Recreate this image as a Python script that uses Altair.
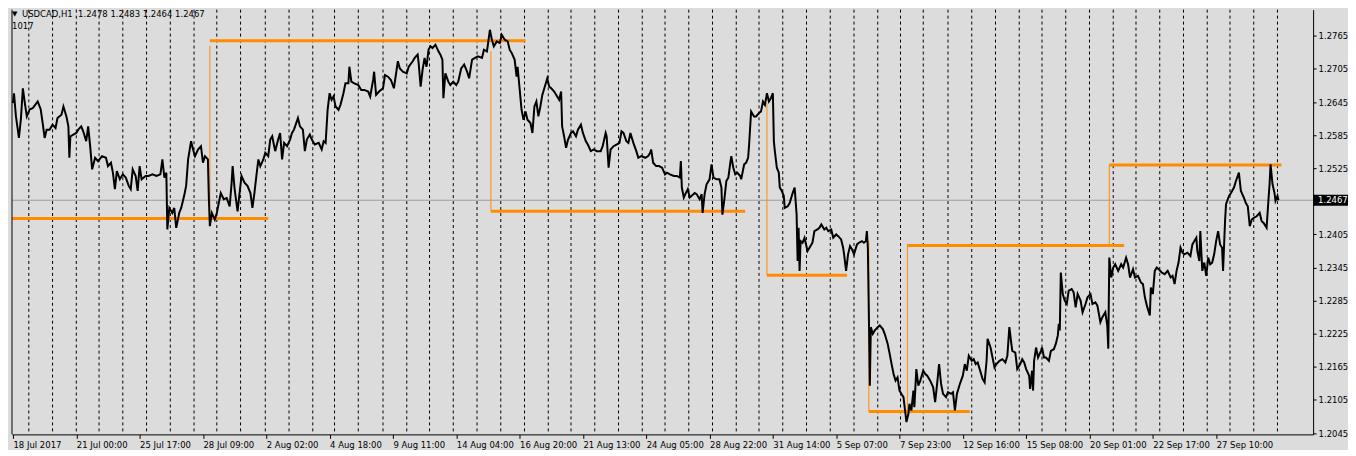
import altair as alt
import pandas as pd

# ---------------- data ----------------
bars = [0, 1, 3, 6, 8, 10, 12, 14, 17, 20, 25, 28, 30, 32, 34, 37, 40, 43, 45, 49,
        51, 54, 56, 57, 58, 61, 64, 66, 69, 71, 74, 76, 78, 80, 83, 86, 90, 94, 96, 99,
        101, 103, 105, 108, 111, 114, 117, 119, 121, 124, 126, 128, 130, 134, 137, 141, 145, 149, 151, 153,
        155, 156, 158, 161, 163, 165, 168, 170, 173, 175, 177, 180, 182, 184, 187, 190, 192, 194, 197, 198,
        199, 201, 204, 206, 208, 210, 213, 216, 219, 221, 222, 224, 227, 229, 231, 234, 237, 240, 242, 244,
        246, 248, 250, 253, 255, 258, 260, 262, 264, 265, 268, 270, 272, 274, 277, 280, 282, 284, 288, 290,
        293, 295, 297, 300, 302, 305, 309, 312, 314, 316, 318, 320, 322, 324, 326, 329, 331, 334, 336, 339,
        340, 342, 345, 349, 352, 355, 359, 361, 364, 365, 367, 370, 374, 376, 379, 382, 385, 389, 391, 394,
        398, 400, 404, 406, 409, 410, 412, 414, 416, 418, 420, 422, 424, 427, 430, 432, 434, 435, 437, 440,
        442, 445, 448, 450, 453, 456, 459, 461, 464, 467, 470, 474, 476, 479, 480, 482, 484, 486, 489, 492,
        494, 497, 500, 502, 504, 507, 509, 510, 512, 514, 516, 518, 520, 523, 525, 527, 529, 531, 533, 535,
        538, 540, 542, 544, 547, 550, 552, 554, 555, 557, 559, 561, 564, 566, 569, 571, 574, 576, 579, 581,
        584, 587, 590, 594, 596, 599, 600, 602, 604, 607, 610, 613, 615, 617, 620, 622, 624, 627, 630, 632,
        635, 639, 642, 644, 645, 647, 650, 653, 656, 659, 661, 664, 668, 671, 674, 675, 676, 678, 680, 682,
        684, 686, 689, 691, 694, 696, 697, 699, 701, 704, 706, 708, 711, 714, 716, 717, 719, 721, 723, 725,
        726, 728, 730, 732, 735, 736, 739, 741, 743, 744, 746, 749, 751, 754, 756, 758, 760, 762, 764, 766,
        768, 769, 770, 772, 774, 775, 777, 779, 780, 783, 785, 788, 790, 791, 792, 793, 794, 795, 796, 798,
        800, 803, 805, 808, 810, 813, 815, 817, 820, 822, 824, 827, 829, 832, 834, 837, 839, 840, 842, 844,
        846, 848, 850, 853, 855, 858, 860, 862, 863, 864, 865, 866, 867, 869, 871, 874, 876, 879, 881, 884,
        886, 888, 890, 892, 894, 896, 898, 900, 902, 903, 905, 906, 908, 910, 911, 913, 915, 917, 920, 922,
        924, 927, 930, 932, 934, 936, 938, 940, 943, 945, 948, 950, 952, 954, 956, 957, 960, 962, 964, 966,
        969, 971, 973, 975, 978, 980, 982, 984, 985, 988, 990, 992, 994, 997, 1000, 1003, 1005, 1007, 1009, 1010,
        1013, 1015, 1018, 1020, 1022, 1024, 1027, 1028, 1030, 1031, 1032, 1034, 1036, 1039, 1040, 1042, 1044, 1047, 1049, 1052,
        1054, 1056, 1057, 1058, 1059, 1061, 1063, 1065, 1067, 1070, 1072, 1074, 1076, 1079, 1081, 1084, 1086, 1089, 1091, 1094,
        1096, 1099, 1101, 1104, 1106, 1107, 1108, 1110, 1112, 1114, 1117, 1120, 1122, 1125, 1127, 1129, 1132, 1134, 1137, 1140,
        1142, 1144, 1146, 1149, 1150, 1152, 1154, 1156, 1158, 1161, 1164, 1167, 1170, 1172, 1174, 1176, 1178, 1180, 1182, 1184,
        1187, 1190, 1192, 1194, 1196, 1197, 1199, 1200, 1202, 1204, 1206, 1208, 1210, 1212, 1214, 1216, 1218, 1220, 1222, 1223,
        1225, 1226, 1229, 1231, 1234, 1236, 1239, 1241, 1244, 1246, 1248, 1250, 1252, 1254, 1257, 1260, 1262, 1264, 1267, 1269,
        1270, 1271, 1273, 1275, 1276, 1278, 1279]

prices = [1.2643, 1.2661, 1.2619, 1.2580, 1.2614, 1.2670, 1.2643, 1.2619, 1.2632, 1.2634, 1.2646, 1.2632, 1.2607, 1.2580, 1.2595, 1.2595, 1.2604, 1.2598, 1.2616, 1.2622,
          1.2637, 1.2619, 1.2601, 1.2544, 1.2583, 1.2586, 1.2589, 1.2595, 1.2601, 1.2592, 1.2574, 1.2601, 1.2565, 1.2523, 1.2544, 1.2538, 1.2547, 1.2544, 1.2529, 1.2535,
          1.2517, 1.2487, 1.2520, 1.2505, 1.2514, 1.2508, 1.2493, 1.2487, 1.2523, 1.2511, 1.2484, 1.2529, 1.2505, 1.2511, 1.2511, 1.2514, 1.2511, 1.2514, 1.2541, 1.2508,
          1.2517, 1.2414, 1.2453, 1.2444, 1.2453, 1.2417, 1.2444, 1.2453, 1.2475, 1.2493, 1.2541, 1.2574, 1.2559, 1.2547, 1.2559, 1.2565, 1.2535, 1.2547, 1.2541, 1.2469,
          1.2420, 1.2444, 1.2432, 1.2444, 1.2462, 1.2480, 1.2469, 1.2471, 1.2456, 1.2499, 1.2529, 1.2487, 1.2447, 1.2480, 1.2511, 1.2499, 1.2493, 1.2480, 1.2453, 1.2480,
          1.2511, 1.2541, 1.2529, 1.2541, 1.2553, 1.2547, 1.2577, 1.2583, 1.2565, 1.2556, 1.2577, 1.2589, 1.2541, 1.2571, 1.2565, 1.2577, 1.2589, 1.2595, 1.2616, 1.2601,
          1.2595, 1.2556, 1.2577, 1.2586, 1.2577, 1.2568, 1.2571, 1.2559, 1.2574, 1.2571, 1.2631, 1.2661, 1.2649, 1.2655, 1.2637, 1.2631, 1.2640, 1.2661, 1.2679, 1.2679,
          1.2709, 1.2682, 1.2679, 1.2676, 1.2667, 1.2667, 1.2664, 1.2655, 1.2685, 1.2700, 1.2658, 1.2664, 1.2670, 1.2694, 1.2691, 1.2685, 1.2670, 1.2719, 1.2706, 1.2700,
          1.2697, 1.2709, 1.2719, 1.2725, 1.2731, 1.2716, 1.2673, 1.2704, 1.2725, 1.2709, 1.2740, 1.2746, 1.2743, 1.2749, 1.2737, 1.2731, 1.2722, 1.2652, 1.2697, 1.2682,
          1.2676, 1.2682, 1.2676, 1.2682, 1.2706, 1.2713, 1.2700, 1.2688, 1.2722, 1.2725, 1.2728, 1.2725, 1.2740, 1.2737, 1.2749, 1.2776, 1.2758, 1.2746, 1.2755, 1.2752,
          1.2767, 1.2758, 1.2755, 1.2740, 1.2734, 1.2722, 1.2691, 1.2709, 1.2670, 1.2631, 1.2613, 1.2628, 1.2613, 1.2607, 1.2589, 1.2637, 1.2646, 1.2619, 1.2637, 1.2658,
          1.2676, 1.2688, 1.2673, 1.2670, 1.2664, 1.2655, 1.2649, 1.2664, 1.2601, 1.2583, 1.2562, 1.2577, 1.2589, 1.2592, 1.2583, 1.2595, 1.2604, 1.2589, 1.2574, 1.2568,
          1.2556, 1.2559, 1.2556, 1.2556, 1.2565, 1.2589, 1.2583, 1.2526, 1.2559, 1.2565, 1.2568, 1.2571, 1.2592, 1.2589, 1.2574, 1.2571, 1.2589, 1.2571, 1.2556, 1.2544,
          1.2547, 1.2544, 1.2547, 1.2553, 1.2559, 1.2535, 1.2529, 1.2529, 1.2526, 1.2514, 1.2517, 1.2514, 1.2511, 1.2511, 1.2508, 1.2538, 1.2490, 1.2472, 1.2480, 1.2487,
          1.2472, 1.2475, 1.2480, 1.2478, 1.2469, 1.2478, 1.2444, 1.2478, 1.2496, 1.2505, 1.2532, 1.2508, 1.2505, 1.2505, 1.2490, 1.2441, 1.2469, 1.2502, 1.2508, 1.2535,
          1.2547, 1.2526, 1.2514, 1.2517, 1.2511, 1.2505, 1.2532, 1.2535, 1.2544, 1.2568, 1.2628, 1.2619, 1.2619, 1.2625, 1.2628, 1.2646, 1.2640, 1.2661, 1.2646, 1.2652,
          1.2661, 1.2574, 1.2556, 1.2526, 1.2517, 1.2490, 1.2484, 1.2475, 1.2453, 1.2456, 1.2462, 1.2480, 1.2490, 1.2466, 1.2441, 1.2357, 1.2417, 1.2339, 1.2393, 1.2390,
          1.2399, 1.2375, 1.2381, 1.2390, 1.2411, 1.2414, 1.2417, 1.2423, 1.2414, 1.2417, 1.2411, 1.2414, 1.2399, 1.2405, 1.2402, 1.2396, 1.2381, 1.2369, 1.2339, 1.2369,
          1.2384, 1.2378, 1.2369, 1.2387, 1.2390, 1.2393, 1.2390, 1.2393, 1.2411, 1.2381, 1.2261, 1.2131, 1.2237, 1.2225, 1.2231, 1.2237, 1.2240, 1.2234, 1.2225, 1.2207,
          1.2189, 1.2170, 1.2152, 1.2140, 1.2146, 1.2122, 1.2116, 1.2110, 1.2080, 1.2065, 1.2080, 1.2098, 1.2086, 1.2122, 1.2092, 1.2161, 1.2131, 1.2140, 1.2158, 1.2152,
          1.2149, 1.2140, 1.2128, 1.2101, 1.2134, 1.2170, 1.2134, 1.2116, 1.2110, 1.2119, 1.2116, 1.2119, 1.2086, 1.2116, 1.2128, 1.2134, 1.2149, 1.2170, 1.2158, 1.2185,
          1.2176, 1.2179, 1.2170, 1.2173, 1.2155, 1.2143, 1.2137, 1.2176, 1.2216, 1.2200, 1.2182, 1.2164, 1.2170, 1.2176, 1.2179, 1.2173, 1.2185, 1.2237, 1.2207, 1.2194,
          1.2191, 1.2161, 1.2170, 1.2179, 1.2173, 1.2161, 1.2149, 1.2125, 1.2158, 1.2122, 1.2176, 1.2200, 1.2182, 1.2194, 1.2200, 1.2182, 1.2182, 1.2176, 1.2194, 1.2197,
          1.2207, 1.2222, 1.2243, 1.2231, 1.2336, 1.2297, 1.2285, 1.2279, 1.2303, 1.2306, 1.2300, 1.2273, 1.2297, 1.2285, 1.2264, 1.2279, 1.2291, 1.2297, 1.2279, 1.2282,
          1.2276, 1.2246, 1.2255, 1.2264, 1.2240, 1.2198, 1.2363, 1.2327, 1.2345, 1.2351, 1.2339, 1.2351, 1.2345, 1.2363, 1.2351, 1.2327, 1.2342, 1.2327, 1.2330, 1.2318,
          1.2315, 1.2291, 1.2276, 1.2258, 1.2309, 1.2297, 1.2339, 1.2345, 1.2342, 1.2336, 1.2333, 1.2339, 1.2327, 1.2330, 1.2315, 1.2339, 1.2354, 1.2381, 1.2372, 1.2369,
          1.2372, 1.2366, 1.2387, 1.2393, 1.2399, 1.2375, 1.2357, 1.2411, 1.2339, 1.2354, 1.2330, 1.2363, 1.2351, 1.2354, 1.2369, 1.2393, 1.2411, 1.2387, 1.2381, 1.2339,
          1.2429, 1.2460, 1.2475, 1.2480, 1.2490, 1.2502, 1.2517, 1.2484, 1.2472, 1.2462, 1.2456, 1.2420, 1.2432, 1.2435, 1.2438, 1.2444, 1.2429, 1.2426, 1.2417, 1.2471,
          1.2496, 1.2532, 1.2496, 1.2480, 1.2466, 1.2475, 1.2467]

# daily separators (bar index of each midnight)
grid_bars = [16, 40, 64, 87, 111, 135, 159, 183, 206, 230, 255, 279, 303, 325, 349, 374, 398, 421, 445, 469,
             493, 517, 541, 564, 588, 612, 636, 659, 683, 707, 731, 754, 778, 802, 826, 850, 874, 897, 920, 945,
             969, 993, 1017, 1040, 1064, 1088, 1112, 1135, 1159, 1183, 1207, 1230, 1254, 1278]

tick_bars = [0, 64, 128, 192, 256, 320, 384, 448, 512, 576, 640, 704, 768, 832, 896, 960, 1024, 1088, 1152, 1216]
tick_labels = ["18 Jul 2017", "21 Jul 00:00", "25 Jul 17:00", "28 Jul 09:00", "2 Aug 02:00", "4 Aug 18:00",
               "9 Aug 11:00", "14 Aug 04:00", "16 Aug 20:00", "21 Aug 13:00", "24 Aug 05:00", "28 Aug 22:00",
               "31 Aug 14:00", "5 Sep 07:00", "7 Sep 23:00", "12 Sep 16:00", "15 Sep 08:00", "20 Sep 01:00",
               "22 Sep 17:00", "27 Sep 10:00"]

price_ticks = [1.2045, 1.2105, 1.2165, 1.2225, 1.2285, 1.2345, 1.2405,
               1.2525, 1.2585, 1.2645, 1.2705, 1.2765]

# orange level indicator
lvl_start = [-1, 199, 483, 762, 865, 904, 1108]
lvl_end = [258, 518, 740, 843, 967, 1123, 1282]
lvl_price = [1.2434, 1.2756, 1.2447, 1.2331, 1.2084, 1.2385, 1.2531]
conn_bar = [199, 483, 762, 865, 904, 1108]
conn_from = [1.2747, 1.2737, 1.2643, 1.2393, 1.2388, 1.2384]
conn_to = [1.2434, 1.2447, 1.2331, 1.2084, 1.2084, 1.2531]

last_price = [1.2467]
header = "USDCAD,H1\u00a0\u00a01.2478 1.2483 1.2464 1.2467"
header2 = "1017"

# ---------------- chart ----------------
BG = "#DCDCDC"
FONT = "DejaVu Sans"
FS = 8.5
W, H = 1305, 426

xs = alt.Scale(domain=[-1, 1314], nice=False, zero=False)
ys = alt.Scale(domain=[1.20426, 1.28125], nice=False, zero=False)

label_expr = ("[" + ",".join("'%s'" % s for s in tick_labels) + "][indexof(["
              + ",".join(str(b) for b in tick_bars) + "], datum.value)]")

x_axis = alt.Axis(values=tick_bars, labelExpr=label_expr, title=None, grid=False,
                  tickSize=4, tickColor="black", domainColor="black", labelColor="black",
                  labelFont=FONT, labelFontSize=FS, labelAlign="left", labelPadding=2,
                  labelOverlap=False, labelFlush=False, labelBound=False)
y_axis = alt.Axis(orient="right", values=price_ticks, format=".4f", title=None, grid=False,
                  tickSize=3, tickColor="black", domainColor="black", labelColor="black",
                  labelFont=FONT, labelFontSize=FS, labelPadding=2, labelOverlap=False,
                  labelFlush=False, labelBound=False)


def X(field):
    return alt.X(field, scale=xs, axis=x_axis)


def Y(field):
    return alt.Y(field, scale=ys, axis=y_axis)


line_df = pd.DataFrame({"bar": bars, "price": prices})
grid_df = pd.DataFrame({"bar": grid_bars})
lvl_df = pd.DataFrame({"start": lvl_start, "end": lvl_end, "price": lvl_price})
conn_df = pd.DataFrame({"bar": conn_bar, "p1": conn_from, "p2": conn_to})
last_df = pd.DataFrame({"price": last_price})
one = pd.DataFrame({"a": [0]})

line = alt.Chart(line_df).mark_line(color="black", strokeWidth=2, interpolate="linear",
                                    strokeJoin="miter").encode(
    x=X("bar:Q"), y=Y("price:Q"))

grid = alt.Chart(grid_df).mark_rule(color="black", strokeDash=[3, 3], strokeWidth=1).encode(
    x=X("bar:Q"))

cur = alt.Chart(last_df).mark_rule(color="#A0A0A0", strokeWidth=1).encode(y=Y("price:Q"))

lvl = alt.Chart(lvl_df).mark_rule(color="#FF8C00", strokeWidth=3).encode(
    x=X("start:Q"), x2="end:Q", y=Y("price:Q"))

conn = alt.Chart(conn_df).mark_rule(color="#FF8C00", strokeWidth=1).encode(
    x=X("bar:Q"), y=Y("p1:Q"), y2="p2:Q")

box = alt.Chart(last_df).mark_rect(color="black", yOffset=-5.5, y2Offset=5.5).encode(
    x=alt.value(W), x2=alt.value(W + 35), y=Y("price:Q"), y2="price:Q")

box_txt = alt.Chart(last_df).mark_text(color="white", align="left", baseline="middle",
                                       font=FONT, fontSize=FS).encode(
    x=alt.value(W + 5), y=Y("price:Q"), text=alt.Text("price:Q", format=".4f"))

tri = alt.Chart(one).mark_text(text="▼", color="black", align="left", baseline="middle",
                               font=FONT, fontSize=7).encode(x=alt.value(0), y=alt.value(4.5))
head = alt.Chart(one).mark_text(text=header, color="black", align="left", baseline="middle",
                                font=FONT, fontSize=FS).encode(x=alt.value(10), y=alt.value(4.5))
head2 = alt.Chart(one).mark_text(text=header2, color="black", align="left", baseline="middle",
                                 font=FONT, fontSize=FS).encode(x=alt.value(0), y=alt.value(16.5))

left_frame = alt.Chart(one).mark_rule(color="black", strokeWidth=1).encode(
    x=alt.value(0), y=alt.value(0), y2=alt.value(H))

chart = alt.layer(grid, cur, lvl, conn, line, box, box_txt, tri, head, head2, left_frame).properties(
    width=W, height=H, padding=0, background=BG
).configure_view(stroke=None)

chart.save("out.html", embed_options={"renderer": "svg", "actions": False})
